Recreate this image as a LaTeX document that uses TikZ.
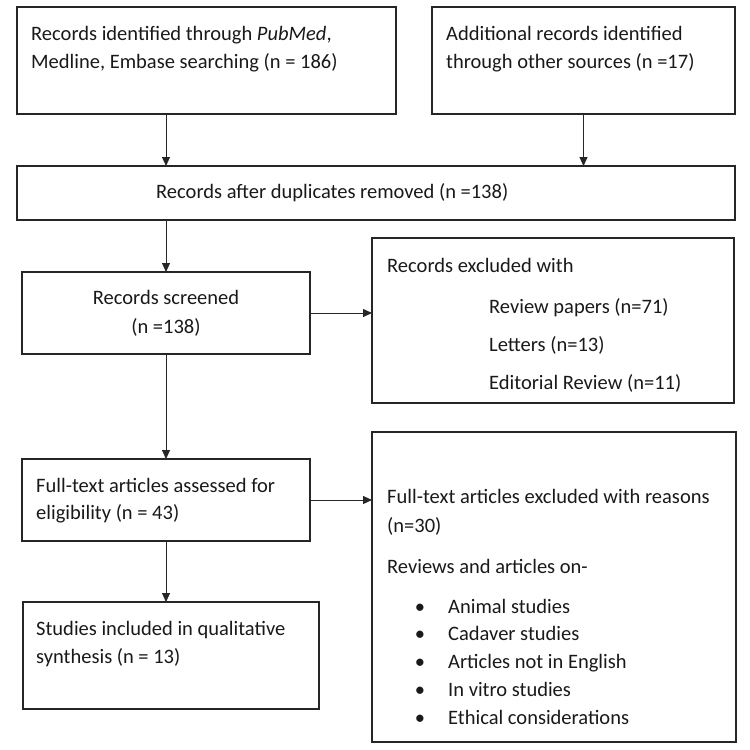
\documentclass[tikz,border=0pt]{standalone}
\usepackage{fontspec}
\setmainfont{Carlito}
\usetikzlibrary{arrows.meta}

\begin{document}
\begin{tikzpicture}[x=1pt,y=-1pt,
    box/.style={draw=black!85, line width=1.5pt, inner sep=0pt, outer sep=0pt},
    txt/.style={anchor=base west, inner sep=0pt, text=black!90, font=\fontsize{20.5}{28}\selectfont},
    link/.style={draw=black!85, line width=0.9pt, -{Triangle[length=9pt,width=8pt]}}]
    \useasboundingbox (0,0) rectangle (750,750);
    % boxes
    \node [box, minimum width=379pt, minimum height=107pt] (ident) at (206.5,60.5) {};
    \node [box, minimum width=303pt, minimum height=107pt] (other) at (583.5,60.5) {};
    \node [box, minimum width=718pt, minimum height=54pt] (dupl) at (376,193) {};
    \node [box, minimum width=288pt, minimum height=82pt] (screen) at (166,313) {};
    \node [box, minimum width=362pt, minimum height=165pt] (excl) at (553,320.5) {};
    \node [box, minimum width=288pt, minimum height=82pt] (full) at (166,500) {};
    \node [box, minimum width=364pt, minimum height=310pt] (fullex) at (554,587) {};
    \node [box, minimum width=296pt, minimum height=107pt] (incl) at (171,655.5) {};
    % texts
    \node [txt] (identA) at (31,40) {Records identified through \textit{PubMed},};
    \node [txt] (identB) at (31,68) {Medline, Embase searching (n = 186)};
    \node [txt] (otherA) at (446,40) {Additional records identified};
    \node [txt] (otherB) at (446,68) {through other sources (n =17)};
    \node [txt] (duplA) at (156,198) {Records after duplicates removed (n =138)};
    \node [txt, anchor=base] (screenA) at (166,304) {Records screened};
    \node [txt, anchor=base] (screenB) at (166,333) {(n =138)};
    \node [txt] (exclA) at (387,272) {Records excluded with};
    \node [txt] (exclB) at (489,313) {Review papers (n=71)};
    \node [txt] (exclC) at (489,351) {Letters (n=13)};
    \node [txt] (exclD) at (489,389) {Editorial Review (n=11)};
    \node [txt] (fullA) at (36,492) {Full-text articles assessed for};
    \node [txt] (fullB) at (36,519) {eligibility (n = 43)};
    \node [txt] (fullexA) at (387,503) {Full-text articles excluded with reasons};
    \node [txt] (fullexB) at (387,532) {(n=30)};
    \node [txt] (fullexC) at (387,573) {Reviews and articles on-};
    \foreach \item [count=\i from 0] in {Animal studies, Cadaver studies, Articles not in English, In vitro studies, Ethical considerations}
    {
        \node [txt, anchor=base] (dot\i) at (420,613+27.75*\i) {•};
        \node [txt] (reason\i) at (448,613+27.75*\i) {\item};
    }
    \node [txt] (inclA) at (36,635) {Studies included in qualitative};
    \node [txt] (inclB) at (36,663) {synthesis (n = 13)};
    % arrows
    \draw [link] (screen.north |- ident.south) -- (screen.north |- dupl.north);
    \draw [link] (other.south) -- (other.south |- dupl.north);
    \draw [link] (screen.north |- dupl.south) -- (screen.north);
    \draw [link] (screen.east) -- (screen.east -| excl.west);
    \draw [link] (screen.south) -- (full.north);
    \draw [link] (full.east) -- (full.east -| fullex.west);
    \draw [link] (full.south) -- (full.south |- incl.north);
\end{tikzpicture}
\end{document}
